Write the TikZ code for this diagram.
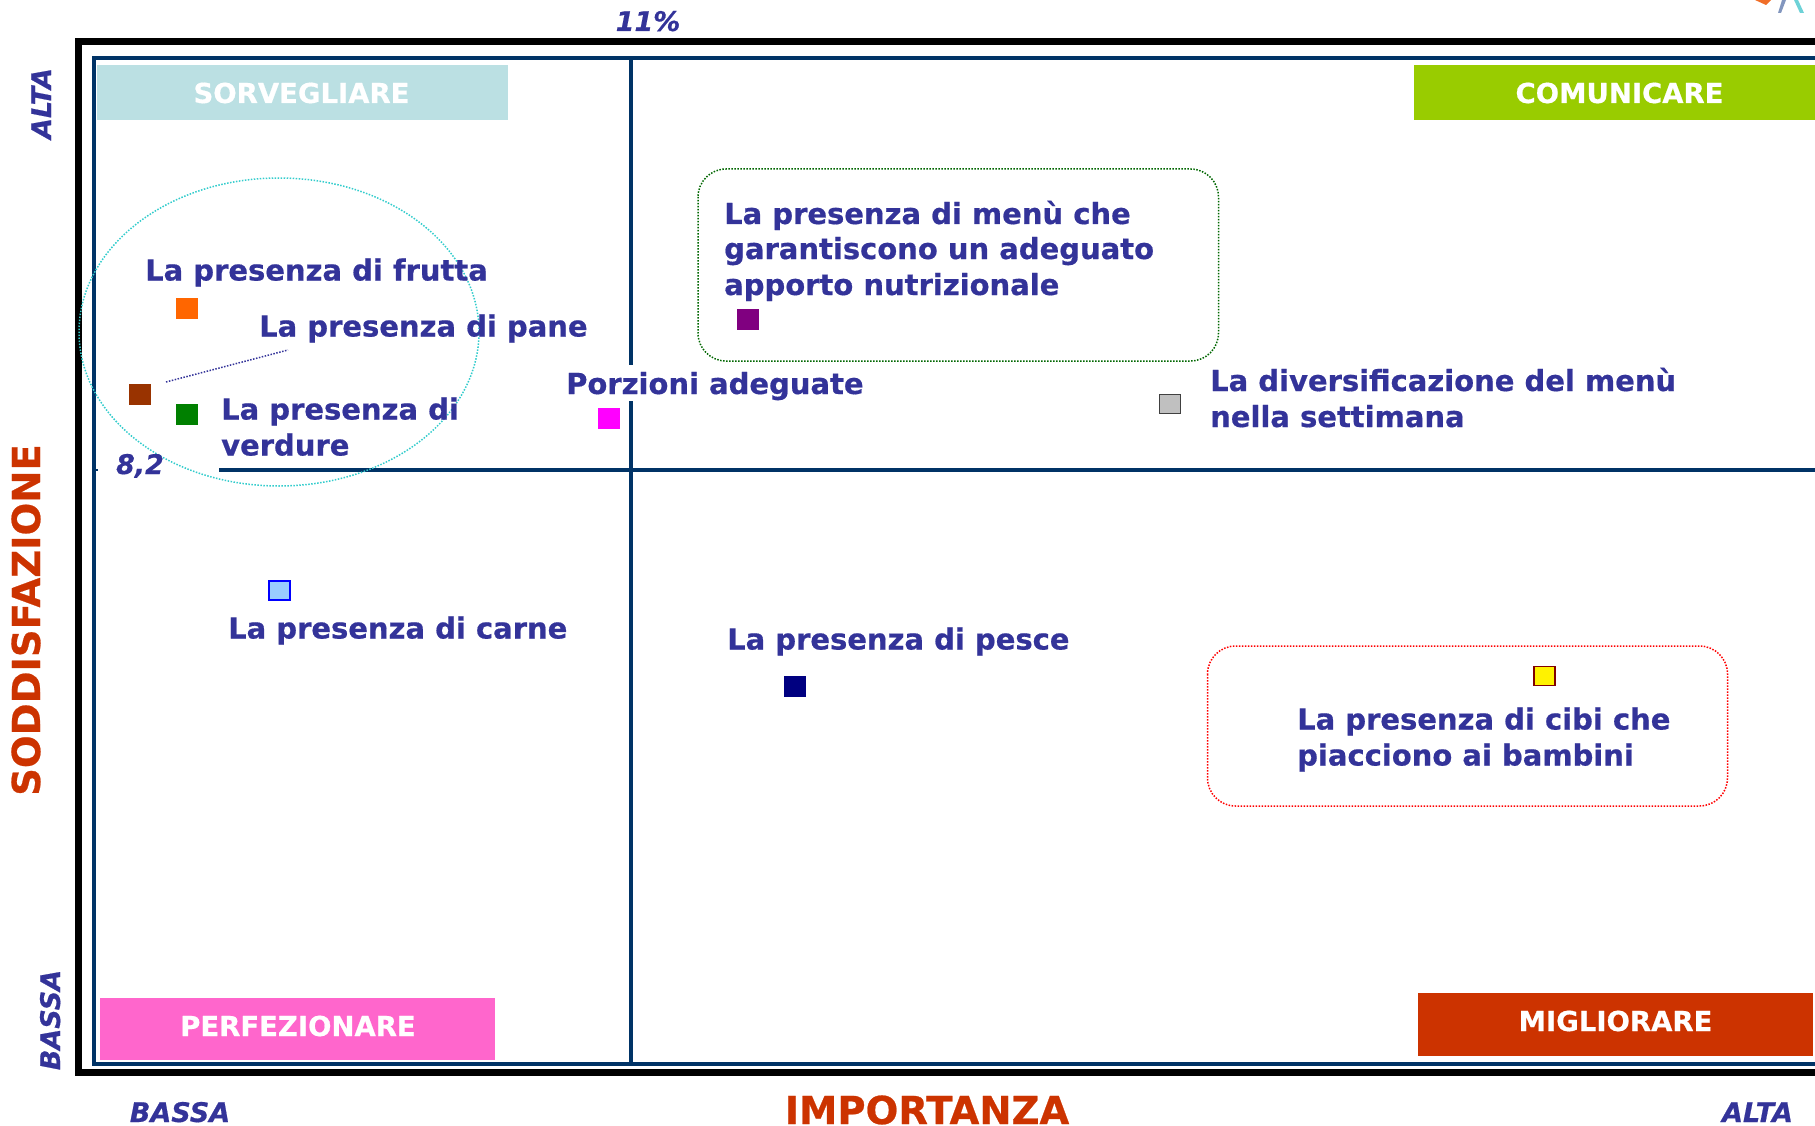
\documentclass[tikz,border=0pt]{standalone}
\usetikzlibrary{shapes.geometric}
\usepackage{fontspec}
\newfontfamily\lbl[BoldFont={DejaVu Sans Bold},BoldItalicFont={DejaVu Sans Bold Oblique},BoldFeatures={FakeBold=0.6},BoldItalicFeatures={FakeBold=0.6}]{DejaVu Sans}
\definecolor{ink}{HTML}{333399}
\definecolor{axisred}{HTML}{CC3300}
\definecolor{rule}{HTML}{003366}
\tikzset{
  lab/.style={anchor=base west,inner sep=0pt,align=left,text=ink,font=\lbl\bfseries\fontsize{29}{35.5}\selectfont},
  ital/.style={inner sep=0pt,text=ink,font=\lbl\bfseries\itshape\fontsize{27}{33}\selectfont},
  axt/.style={inner sep=0pt,text=axisred,font=\lbl\bfseries\fontsize{38.5}{46}\selectfont},
  banner/.style={anchor=center,inner sep=0pt,text=white,font=\lbl\bfseries\fontsize{27.5}{33}\selectfont},
  sq/.style={inner sep=0pt,minimum width=22pt,minimum height=21pt,draw=none},
  blueline/.style={draw=rule,line width=3.4pt},
  blackline/.style={draw=black,line width=7pt},
  dots/.style={dash pattern=on 1.5pt off 1.5pt,line width=1.5pt},
}
\begin{document}
\begin{tikzpicture}[x=1pt,y=-1pt]
\useasboundingbox (0,0) rectangle (1815,1126);
\clip (0,0) rectangle (1815,1126);
% logo fragment
\fill[fill={rgb,255:red,240;green,110;blue,40}] (1755,0) -- (1771,0) -- (1766,5) -- cycle;
\fill[fill={rgb,255:red,130;green,150;blue,190}] (1782,0) -- (1786,0) -- (1781,13) -- (1778,13) -- cycle;
\fill[fill={rgb,255:red,110;green,210;blue,215}] (1794,0) -- (1798,0) -- (1804,13) -- (1800,13) -- cycle;
% frames
\coordinate (fa) at (78,42); \coordinate (fb) at (1830,42); \coordinate (fc) at (78,1072); \coordinate (fd) at (1830,1072);
\draw[blackline] (fb) -- (fa) -- (fc) -- (fd);
\coordinate (ga) at (94,58); \coordinate (gb) at (1830,58); \coordinate (gc) at (94,1064); \coordinate (gd) at (1830,1064);
\draw[blueline] (gb) -- (ga) -- (gc) -- (gd);
\coordinate (va) at (631,58); \coordinate (vb) at (631,365); \coordinate (vc) at (631,401); \coordinate (vd) at (631,1064);
\draw[blueline] (va) -- (vb) (vc) -- (vd);
\coordinate (ha) at (219,470); \coordinate (hb) at (1830,470);
\draw[blueline] (ha) -- (hb);
\coordinate (ta) at (94,470); \coordinate (tb) at (98,470);
\draw[draw=rule,line width=2pt] (ta) -- (tb);
% banners
\fill[fill={rgb,255:red,187;green,224;blue,227}] (97,65) rectangle (508,120);
\fill[fill={rgb,255:red,153;green,204;blue,0}] (1414,65) rectangle (1825,120);
\fill[fill={rgb,255:red,255;green,102;blue,204}] (100,998) rectangle (495,1060);
\fill[fill=axisred] (1418,993) rectangle (1813,1056);
\node[banner,anchor=base] (sorv) at (301.5,103) {SORVEGLIARE};
\node[banner,anchor=base] (comu) at (1619.5,103) {COMUNICARE};
\node[banner,anchor=base] (perf) at (298,1036) {PERFEZIONARE};
\node[banner,anchor=base] (migl) at (1615.5,1031) {MIGLIORARE};
% groups
\node[draw={rgb,255:red,51;green,204;blue,204},dots,ellipse,inner sep=0pt,minimum width=400pt,minimum height=308pt] (grp) at (279,332) {};
\draw[draw={rgb,255:red,0;green,102;blue,0},dots,rounded corners=28pt] (698,169) rectangle (1218.5,361);
\draw[draw=red,dots,rounded corners=28pt] (1207.5,646) rectangle (1727.5,806);
% labels
\node[lab] (frutta) at (145,280.5) {La presenza di frutta};
\node[lab] (pane) at (259,336.5) {La presenza di pane};
\node[lab] (verd) at (221,419.5) {La presenza di};
\node[lab] (verd2) at (221,455.5) {verdure};
\node[lab] (porz) at (566,394) {Porzioni adeguate};
\node[lab] (menu1) at (724,224) {La presenza di menù che};
\node[lab] (menu2) at (724,259) {garantiscono un adeguato};
\node[lab] (menu3) at (724,295) {apporto nutrizionale};
\node[lab] (div1) at (1210,391) {La diversificazione del menù};
\node[lab] (div2) at (1210,427) {nella settimana};
\node[lab] (carne) at (228,638.5) {La presenza di carne};
\node[lab] (pesce) at (727,649.5) {La presenza di pesce};
\node[lab] (cibi1) at (1297,729.5) {La presenza di cibi che};
\node[lab] (cibi2) at (1297,765.5) {piacciono ai bambini};
% squares
\node[sq,fill={rgb,255:red,255;green,102;blue,0}] (s1) at (186.5,308.5) {};
\node[sq,fill={rgb,255:red,153;green,51;blue,0}] (s2) at (140,394.5) {};
\node[sq,fill={rgb,255:red,0;green,128;blue,0}] (s3) at (186.5,414.5) {};
\node[sq,fill={rgb,255:red,255;green,0;blue,255}] (s4) at (609,418.5) {};
\node[sq,fill={rgb,255:red,128;green,0;blue,128}] (s5) at (748,319.5) {};
\node[sq,fill={rgb,255:red,192;green,192;blue,192},draw={rgb,255:red,64;green,64;blue,64},line width=1.8pt,minimum width=21pt,minimum height=19pt] (s6) at (1170,404) {};
\node[sq,fill={rgb,255:red,153;green,204;blue,255},draw={rgb,255:red,0;green,0;blue,255},line width=1.8pt,minimum width=21pt,minimum height=19pt] (s7) at (279.5,590.5) {};
\node[sq,fill={rgb,255:red,0;green,0;blue,128}] (s8) at (795,686.5) {};
\node[sq,fill=yellow,draw={rgb,255:red,128;green,0;blue,0},line width=1.8pt,minimum width=21pt,minimum height=19pt] (s9) at (1544.5,676) {};
% connector
\coordinate (pa) at (288,350);
\coordinate (pb) at (166,382);
\draw[draw=ink,dots] (pb) -- (pa);
% axis labels
\node[ital,anchor=base] (pct) at (648,31) {11\%};
\node[ital,anchor=base] (val) at (140,474) {8,2};
\node[ital,rotate=90,anchor=base] (ya) at (51,103.5) {ALTA};
\node[ital,rotate=90,anchor=base] (yb) at (60,1020) {BASSA};
\node[ital,anchor=base] (xb) at (180,1122) {BASSA};
\node[ital,anchor=base] (xa) at (1757.5,1122) {ALTA};
\node[axt,anchor=base] (imp) at (927,1124) {IMPORTANZA};
\node[axt,rotate=90,anchor=base] (sod) at (40,620) {SODDISFAZIONE};
\end{tikzpicture}
\end{document}
